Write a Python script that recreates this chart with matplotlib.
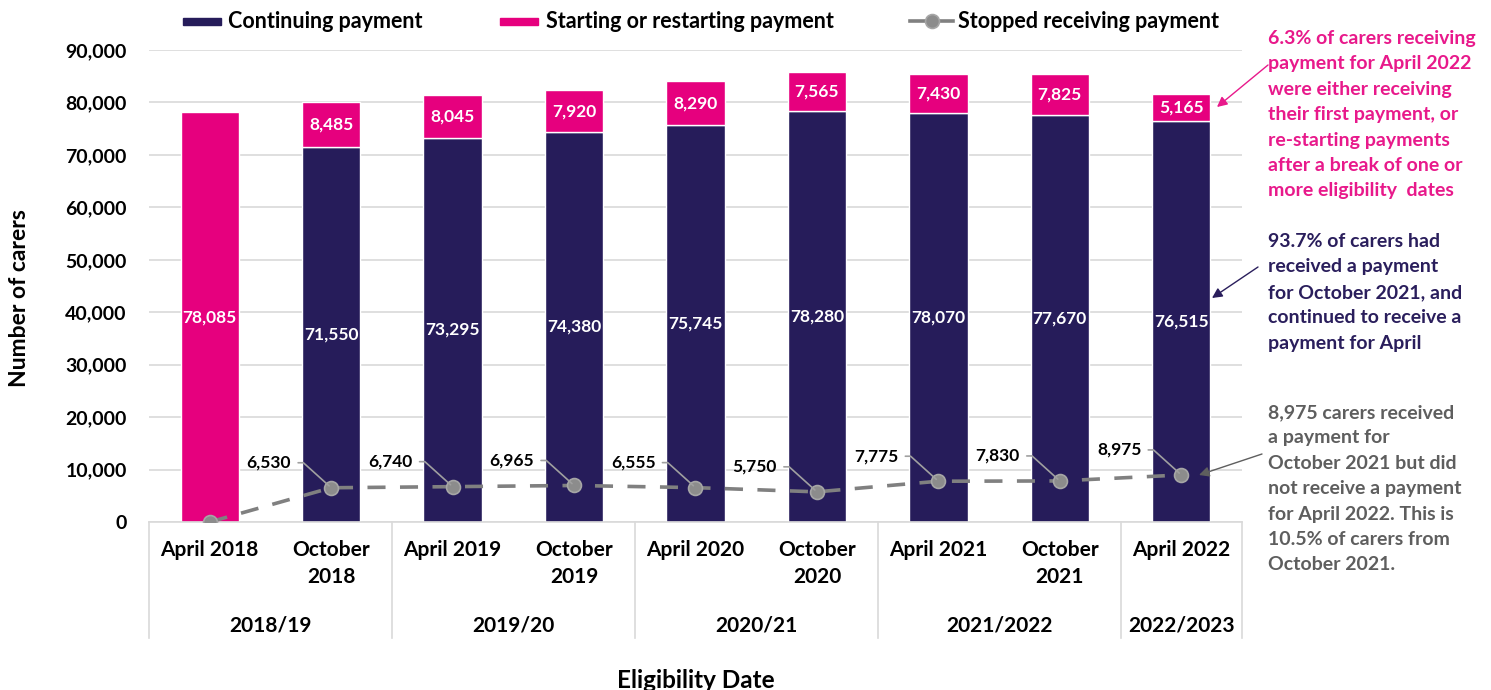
import matplotlib
matplotlib.use("Agg")
import matplotlib.pyplot as plt
from matplotlib.ticker import FuncFormatter
from matplotlib.patches import Rectangle, FancyArrowPatch
from matplotlib.lines import Line2D
import numpy as np

# ---- data ----
categories = ["April 2018", "October\n2018", "April 2019", "October\n2019", "April 2020",
              "October\n2020", "April 2021", "October\n2021", "April 2022"]
continuing = [0, 71550, 73295, 74380, 75745, 78280, 78070, 77670, 76515]
starting = [78085, 8485, 8045, 7920, 8290, 7565, 7430, 7825, 5165]
stopped = [0, 6530, 6740, 6965, 6555, 5750, 7775, 7830, 8975]
groups = ["2018/19", "2019/20", "2020/21", "2021/2022", "2022/2023"]
group_sizes = [2, 2, 2, 2, 1]
series_names = ["Continuing payment", "Starting or restarting payment", "Stopped receiving payment"]

NAVY = "#261C5A"
PINK = "#E6007E"
GREY = "#808080"
FONT = ["Lato", "DejaVu Sans"]
plt.rcParams['font.family'] = FONT
plt.rcParams['font.weight'] = 'bold'

fig = plt.figure(figsize=(14.91, 6.90), dpi=100)
W, H = 1491, 690
ax = fig.add_axes([149 / W, 1 - 522 / H, (1242 - 149) / W, (522 - 50) / H])

x = np.arange(len(categories))
bw = 0.48
ax.bar(x, continuing, bw, color=NAVY, edgecolor="white", linewidth=1, zorder=2)
ax.bar(x, starting, bw, bottom=continuing, color=PINK, edgecolor="white", linewidth=1, zorder=2)
ax.plot(x, stopped, color=GREY, lw=2.6, ls=(0, (5, 4)), marker="o", markersize=10,
        markerfacecolor="#8C8C8C", markeredgecolor="#A6A6A6", markeredgewidth=1.2, zorder=4)

# bar labels
for i in range(len(x)):
    if continuing[i] > 0:
        ax.text(x[i], continuing[i] / 2, f"{continuing[i]:,}", ha="center", va="center",
                color="white", fontsize=12.5, fontweight="bold", zorder=5)
    ax.text(x[i], continuing[i] + starting[i] / 2, f"{starting[i]:,}", ha="center",
            va="center", color="white", fontsize=12.5, fontweight="bold", zorder=5)

# line labels with leader lines
for i in range(len(x)):
    if stopped[i] == 0:
        continue
    ax.annotate(f"{stopped[i]:,}", xy=(x[i], stopped[i]), xytext=(-40, 25),
                textcoords="offset pixels", ha="right", va="center", fontsize=12.5,
                fontweight="bold", color="black", zorder=5,
                arrowprops=dict(arrowstyle="-", color="#A0A0A0", lw=1.2,
                                connectionstyle="angle,angleA=0,angleB=138,rad=0",
                                relpos=(1, 0.5), shrinkA=3, shrinkB=2))

ax.set_ylim(0, 90000)
ax.set_xlim(-0.5, len(x) - 0.5)
ax.set_yticks(np.arange(0, 90001, 10000))
ax.yaxis.set_major_formatter(FuncFormatter(lambda v, p: f"{int(v):,}"))
ax.tick_params(axis="y", length=0, labelsize=14, pad=16)
ax.set_xticks(x)
ax.set_xticklabels(categories, fontsize=15, fontweight="bold", linespacing=1.45)
ax.tick_params(axis="x", length=0, pad=13)
for lab in ax.get_yticklabels():
    lab.set_fontweight("bold")
ax.grid(axis="y", color="#D9D9D9", lw=1.2, zorder=0)
ax.set_axisbelow(True)
for s in ["left", "right", "top"]:
    ax.spines[s].set_visible(False)
ax.spines["bottom"].set_color("#D9D9D9")
ax.spines["bottom"].set_linewidth(1.2)

# category groups
trans = ax.get_xaxis_transform()
ax_h = 522 - 50
sep_bottom = -(638 - 522) / ax_h
grp_y = -(625 - 522) / ax_h
start = -0.5
ax.plot([start, start], [0, sep_bottom], transform=trans, color="#D9D9D9", lw=1.2, clip_on=False)
for g, n in zip(groups, group_sizes):
    end = start + n
    ax.plot([end, end], [0, sep_bottom], transform=trans, color="#D9D9D9", lw=1.2, clip_on=False)
    ax.text((start + end) / 2, grp_y, g, transform=trans, ha="center", va="center",
            fontsize=15, fontweight="bold")
    start = end

fig.text(20 / W, 1 - 298 / H, "Number of carers", rotation=90, ha="center", va="center",
         fontsize=16.5, fontweight="bold")
fig.text(696 / W, 1 - 681 / H, "Eligibility Date", ha="center", va="center",
         fontsize=17.5, fontweight="bold")

# legend (drawn to match original layout)
ly = 1 - 21 / H
fig.add_artist(Rectangle((183 / W, 1 - 25 / H), 38 / W, 7 / H, transform=fig.transFigure,
                         color=NAVY))
fig.add_artist(Rectangle((500 / W, 1 - 25 / H), 38 / W, 7 / H, transform=fig.transFigure,
                         color=PINK))
fig.add_artist(Line2D([910 / W, 953 / W], [ly, ly], transform=fig.transFigure, color=GREY,
                      lw=2.6))
fig.add_artist(Line2D([932 / W], [ly], transform=fig.transFigure, marker="o", markersize=10,
                      markerfacecolor="#8C8C8C", markeredgecolor="#A6A6A6",
                      markeredgewidth=1.2))
for tx, name in zip([228, 546, 958], series_names):
    fig.text(tx / W, ly, name, ha="left", va="center", fontsize=15.5, fontweight="bold")

# right annotations
txt_pink = ("6.3% of carers receiving\npayment for April 2022\nwere either receiving\n"
            "their first payment, or\nre-starting payments\nafter a break of one or\n"
            "more eligibility  dates")
txt_navy = ("93.7% of carers had\nreceived a payment\nfor October 2021, and\n"
            "continued to receive a\npayment for April")
txt_grey = ("8,975 carers received\na payment for\nOctober 2021 but did\n"
            "not receive a payment\nfor April 2022. This is\n10.5% of carers from\nOctober 2021.")
fig.text(1268 / W, 1 - 30 / H, txt_pink, ha="left", va="top", fontsize=14,
         fontweight="bold", color="#E8198B", linespacing=1.6)
fig.text(1268 / W, 1 - 233 / H, txt_navy, ha="left", va="top", fontsize=14,
         fontweight="bold", color="#2A1E5C", linespacing=1.6)
fig.text(1268 / W, 1 - 404 / H, txt_grey, ha="left", va="top", fontsize=14,
         fontweight="bold", color="#5E5E5E", linespacing=1.6)

for (x0, y0, x1, y1, c) in [(1268, 65, 1217, 107, "#E8198B"),
                           (1258, 267, 1212, 298, "#2A1E5C"),
                           (1262, 454, 1199, 475, "#5E5E5E")]:
    fig.add_artist(FancyArrowPatch(
        (x0 / W, 1 - y0 / H), (x1 / W, 1 - y1 / H), transform=fig.transFigure,
        arrowstyle="-|>,head_length=6,head_width=3", color=c, lw=1, mutation_scale=1,
        shrinkA=0, shrinkB=0))

fig.savefig("out.png", dpi=100)
